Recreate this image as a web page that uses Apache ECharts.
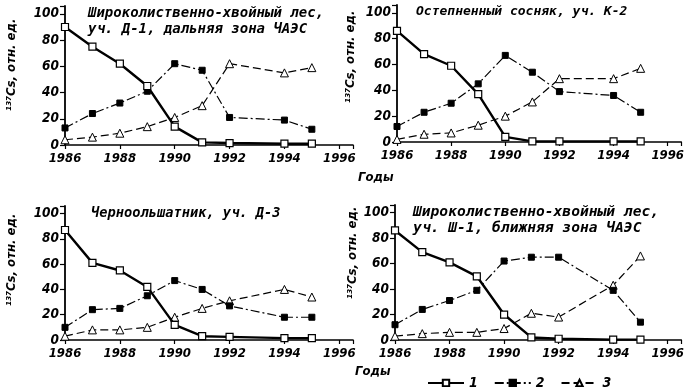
<!DOCTYPE html>
<html>
<head>
<meta charset="utf-8">
<script src="https://cdn.jsdelivr.net/npm/echarts@6/dist/echarts.min.js"></script>
<style>html,body{margin:0;padding:0;background:#fff}#c{width:687px;height:387px}</style>
</head>
<body>
<div id="c"></div>
<script>
// ---- data ----
const years = [1986, 1987, 1988, 1989, 1990, 1991, 1992, 1994, 1995];
const seriesNames = ['1', '2', '3'];
const xTicks = [1986, 1988, 1990, 1992, 1994, 1996];
const yTicks = [0, 20, 40, 60, 80, 100];

// Panel A: Широколиственно-хвойный лес, уч. Д-1
const a1 = [90, 75, 62, 45, 14, 2, 1.5, 1, 1];
const a2 = [13, 24, 32, 41, 62, 57, 21, 19, 12];
const a3 = [4, 6, 9, 14, 21, 30, 62, 55, 59];
// Panel B: Остепненный сосняк, уч. К-2
const b1 = [86, 68, 59, 37, 4, 0.5, 0.5, 0.5, 0.5];
const b2 = [12, 23, 30, 45, 67, 54, 39, 36, 23];
const b3 = [2, 6, 7, 13, 20, 31, 49, 49, 57];
// Panel C: Черноольшатник, уч. Д-3
const c1 = [87, 61, 55, 42, 12, 3, 2.5, 1.5, 1.5];
const c2 = [10, 24, 25, 35, 47, 40, 27, 18, 18];
const c3 = [3, 8, 8, 10, 18, 25, 31, 40, 34];
// Panel D: Широколиственно-хвойный лес, уч. Ш-1
const d1 = [86, 69, 61, 50, 20, 2, 1, 0.3, 0.3];
const d2 = [12, 24, 31, 39, 62, 65, 65, 39, 14];
const d3 = [3, 5, 6, 6, 9, 21, 18, 43, 66];

const panelData = [[a1, a2, a3], [b1, b2, b3], [c1, c2, c3], [d1, d2, d3]];
const titles = [
  ['Широколиственно-хвойный лес,', 'уч. Д-1, дальняя зона ЧАЭС'],
  ['Остепненный сосняк, уч. К-2'],
  ['Черноольшатник, уч. Д-3'],
  ['Широколиственно-хвойный лес,', 'уч. Ш-1, ближняя зона ЧАЭС']
];
const yTitle = '¹³⁷Cs, отн. ед.';
const xTitle = 'Годы';

// ---- layout ----
const grids = [
  {left: 65, right: 334, top: 6, bottom: 242},
  {left: 397, right: 3, top: 5, bottom: 245},
  {left: 65, right: 334, top: 206, bottom: 47},
  {left: 395, right: 5, top: 205, bottom: 47}
];
const titlePos = [[88, 14, 30], [416, 13], [91, 214], [413, 213, 229]];
const titleSize = [14, 13, 13.7, 14.6];
const yTitlePos = [[12, 65], [351, 57], [12, 260], [353, 253]];

const FONT = '"DejaVu Sans Condensed", "DejaVu Sans", sans-serif';
const TFONT = '"DejaVu Sans Mono", monospace';

const styles = [
  {symbol: 'rect', symbolSize: 7, lineStyle: {color: '#000', width: 2.4, type: 'solid'},
   itemStyle: {color: '#fff', borderColor: '#000', borderWidth: 1.2}},
  {symbol: 'rect', symbolSize: 6, lineStyle: {color: '#000', width: 1.2, type: [9, 3, 2, 3]},
   itemStyle: {color: '#000', borderColor: '#000', borderWidth: 1}},
  {symbol: 'triangle', symbolSize: 8, lineStyle: {color: '#000', width: 1.2, type: [8, 4]},
   itemStyle: {color: '#fff', borderColor: '#000', borderWidth: 1}}
];

const xAxes = [], yAxes = [], series = [];
grids.forEach((g, i) => {
  xAxes.push({
    type: 'value', gridIndex: i, min: 1986, max: 1996.5, interval: 2,
    axisLine: {lineStyle: {color: '#000', width: 1.6}},
    axisTick: {length: 4, lineStyle: {color: '#000', width: 1.2}},
    splitLine: {show: false},
    axisLabel: {
      color: '#000', fontFamily: FONT, fontStyle: 'italic', fontWeight: 'bold', fontSize: 13, margin: 7,
      formatter: v => (xTicks.indexOf(v) >= 0 ? String(v) : '')
    }
  });
  yAxes.push({
    type: 'value', gridIndex: i, min: 0, max: 106, interval: 20,
    axisLine: {show: true, lineStyle: {color: '#000', width: 1.8}},
    axisTick: {show: true, length: 5, lineStyle: {color: '#000', width: 1.2}},
    splitLine: {show: false},
    axisLabel: {
      color: '#000', fontFamily: FONT, fontStyle: 'italic', fontWeight: 'bold', fontSize: 13.5, margin: 6,
      formatter: v => (yTicks.indexOf(v) >= 0 ? String(v) : '')
    }
  });
  panelData[i].forEach((vals, k) => {
    series.push(Object.assign({
      type: 'line', name: seriesNames[k], xAxisIndex: i, yAxisIndex: i,
      data: years.map((y, j) => [y, vals[j]]), z: 3 - k + 2, animation: false
    }, styles[k]));
  });
});

const graphics = [];
titles.forEach((t, i) => {
  t.forEach((line, j) => {
    graphics.push({type: 'text', left: titlePos[i][0], top: titlePos[i][1 + j] - 8,
      style: {text: line, fill: '#000', font: 'italic bold ' + titleSize[i] + 'px ' + TFONT}});
  });
});
yTitlePos.forEach(p => {
  graphics.push({type: 'text', x: p[0], y: p[1], rotation: Math.PI / 2,
    style: {text: yTitle, fill: '#000', font: 'italic bold 13px ' + FONT, align: 'center', verticalAlign: 'middle'}});
});
graphics.push({type: 'text', left: 358, top: 171, style: {text: xTitle, fill: '#000', font: 'italic bold 13px ' + FONT}});
graphics.push({type: 'text', left: 355, top: 365, style: {text: xTitle, fill: '#000', font: 'italic bold 13px ' + FONT}});

const chart = echarts.init(document.getElementById('c'));
chart.setOption({
  backgroundColor: '#fff',
  animation: false,
  grid: grids,
  xAxis: xAxes,
  yAxis: yAxes,
  series: series,
  legend: {
    data: seriesNames, left: 422, top: 371, itemWidth: 36, itemHeight: 8, itemGap: 16,
    textStyle: {color: '#000', fontFamily: FONT, fontStyle: 'italic', fontWeight: 'bold', fontSize: 14}
  },
  graphic: graphics
});
</script>
</body>
</html>
